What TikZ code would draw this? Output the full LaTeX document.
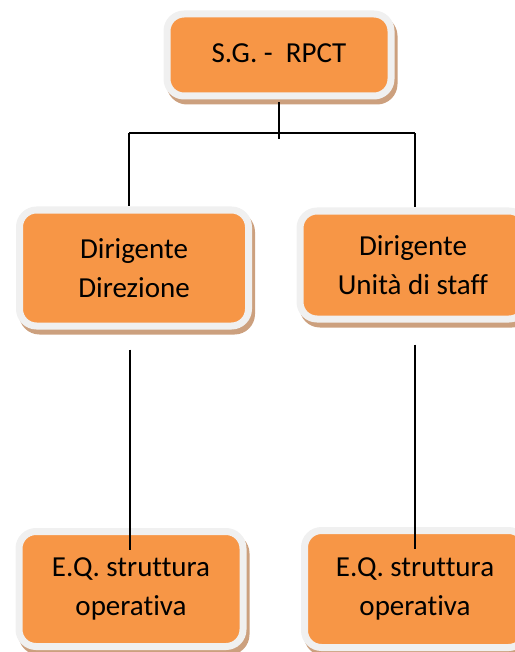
\documentclass[tikz,border=0pt]{standalone}
\usepackage{fontspec}
\setmainfont{Carlito}[Ligatures=NoCommon]
\usetikzlibrary{shadows}

\definecolor{arancio}{HTML}{F79646}
\definecolor{cornice}{HTML}{F0F0F0}
\definecolor{ombra}{RGB}{204,160,126}

\tikzset{
  ufficio/.style={draw=cornice, fill=arancio, line width=7pt,
    rounded corners=17pt, align=center, inner sep=0pt,
    font=\fontsize{29}{39}\selectfont,
    drop shadow={shadow xshift=3pt, shadow yshift=-5pt,
      fill=ombra, draw=ombra, line width=7pt, opacity=1}},
  linea/.style={line width=1.3pt, black}
}

\begin{document}
\begin{tikzpicture}[x=1pt, y=-1pt]
\useasboundingbox (0,0) rectangle (514,652);

% Vertice
\node[ufficio, minimum width=224pt, minimum height=82pt] (sg) at (279,55) {\raisebox{3pt}{S.G. -\ \ RPCT}};

% Dirigenti
\node[ufficio, minimum width=229pt, minimum height=116pt] (dirA) at (134,268) {Dirigente\\Direzione};
\node[ufficio, minimum width=226pt, minimum height=108pt] (dirB) at (413,265) {Dirigente\\Unità di staff};

% E.Q.
\node[ufficio, minimum width=224pt, minimum height=115pt] (eqA) at (131,589) {E.Q. struttura\\operativa};
\node[ufficio, minimum width=221pt, minimum height=117pt] (eqB) at (415,589) {E.Q. struttura\\operativa};

% Collegamenti
\coordinate (nodo) at (279,139);
\coordinate (barA) at (129,133);
\coordinate (barB) at (415,133);
\draw[linea] ([yshift=-3pt]sg.south) -- (nodo);
\draw[linea] (barA) -- (barB);
\draw[linea] (barA) -- (barA |- dirA.north);
\draw[linea] (barB) -- (barB |- dirB.north);

\draw[linea] ([shift={(-4pt,-20pt)}]dirA.south) -- ([shift={(-1pt,-22pt)}]eqA.north);
\draw[linea] ([shift={(2pt,-22pt)}]dirB.south) -- ([yshift=-22pt]eqB.north);
\end{tikzpicture}
\end{document}
